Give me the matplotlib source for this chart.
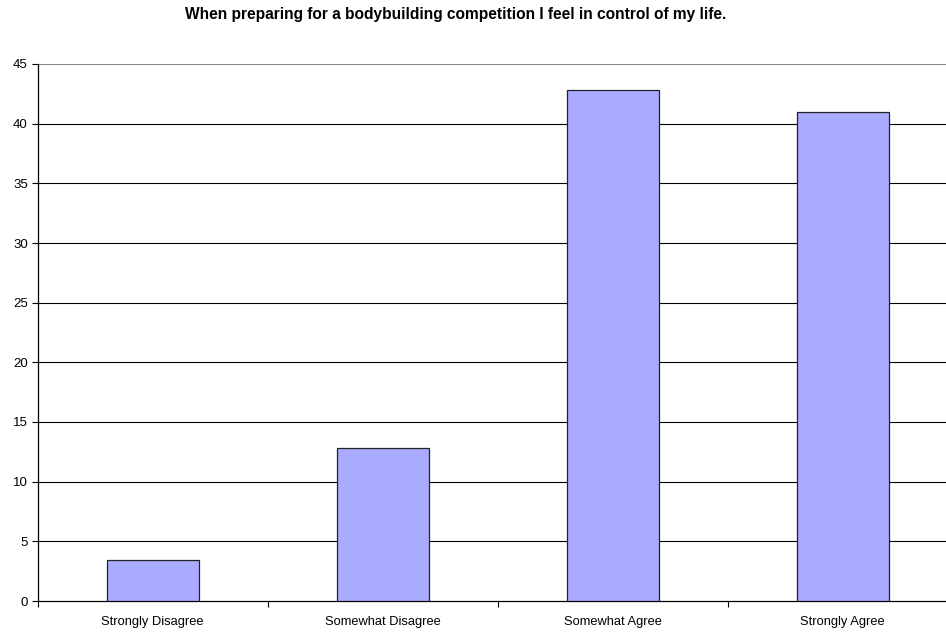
import matplotlib
matplotlib.use("Agg")
import matplotlib.pyplot as plt
from matplotlib.ticker import FixedLocator, NullFormatter

categories = ["Strongly Disagree", "Somewhat Disagree", "Somewhat Agree", "Strongly Agree"]
values = [3.4, 12.8, 42.8, 41.0]
yticks = [0, 5, 10, 15, 20, 25, 30, 35, 40, 45]
title = "When preparing for a bodybuilding competition I feel in control of my life."

plt.rcParams['font.family'] = ['Liberation Sans', 'DejaVu Sans']

fig = plt.figure(figsize=(9.46, 6.32), dpi=100)
ax = fig.add_axes([37.5/946, 31/632, 920/946, (601-64)/632])

x = list(range(len(categories)))
ax.bar(x, values, width=0.4, color="#AAAAFF", edgecolor="#222222", linewidth=0.9, zorder=3)

ax.set_xlim(-0.5, len(categories) - 0.5)
ax.set_ylim(0, 45)
ax.set_yticks(yticks)
ax.set_yticklabels([str(t) for t in yticks], fontsize=9.5)

ax.set_xticks(x)
ax.set_xticklabels(categories, fontsize=9.3)
ax.tick_params(axis='x', which='major', length=0, pad=11)
ax.xaxis.set_minor_locator(FixedLocator([-0.5 + i for i in range(len(categories) + 1)]))
ax.xaxis.set_minor_formatter(NullFormatter())
ax.tick_params(axis='x', which='minor', length=4, width=0.8, direction='out', color='black')
ax.tick_params(axis='y', length=4, width=0.8, direction='out', pad=3)

for t in yticks[1:]:
    ax.axhline(t, color='black' if t < 45 else '#888888', linewidth=0.8, zorder=1)

ax.spines['top'].set_visible(False)
ax.spines['right'].set_visible(False)
ax.spines['left'].set_linewidth(0.9)
ax.spines['bottom'].set_linewidth(0.9)

fig.text(456/946, 1 - 14/632, title, ha='center', va='center', fontsize=11.2, fontweight='bold')

fig.savefig("out.png", dpi=100)
